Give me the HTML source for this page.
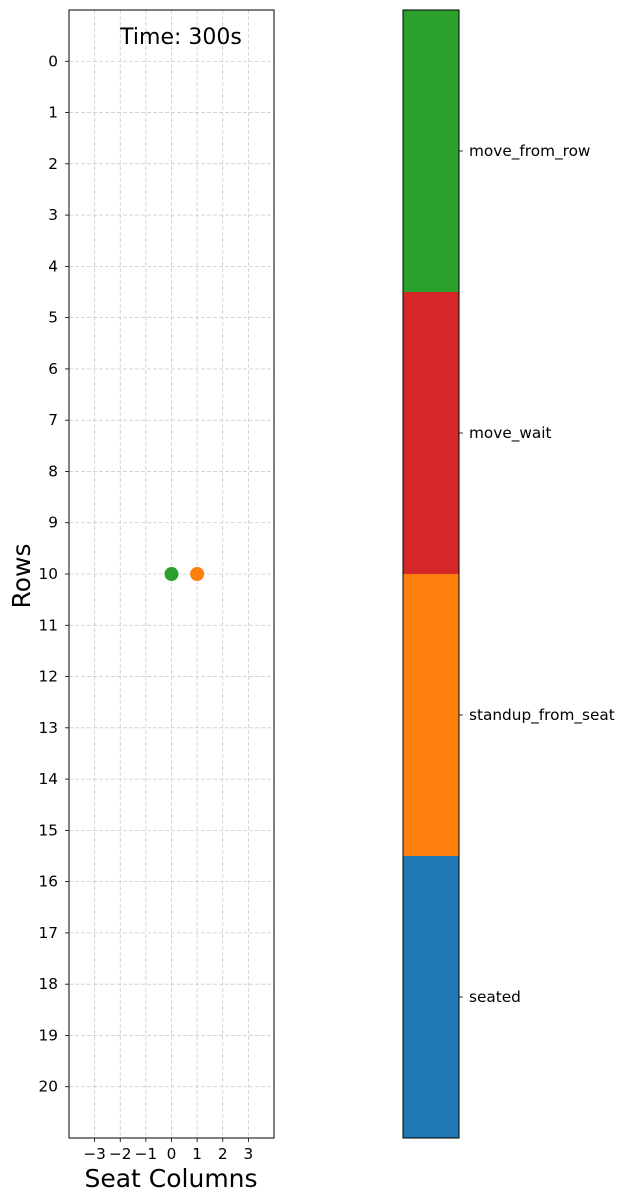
<!DOCTYPE html>
<html><head><meta charset="utf-8"><style>
body{margin:0;background:#fff;}
svg{display:block;font-family:"DejaVu Sans","Liberation Sans",sans-serif;}
</style></head><body>
<svg id="c" width="624" height="1202" xmlns="http://www.w3.org/2000/svg"></svg>
<script>
const rowTicks=[0,1,2,3,4,5,6,7,8,9,10,11,12,13,14,15,16,17,18,19,20];
const colTicks=[-3,-2,-1,0,1,2,3];
const colTickLabels=["\u22123","\u22122","\u22121","0","1","2","3"];
const pointCols=[0,1];
const pointRows=[10,10];
const pointColors=["#2ca02c","#ff7f0e"];
const stateNames=["seated","standup_from_seat","move_wait","move_from_row"];
const stateColors=["#1f77b4","#ff7f0e","#d62728","#2ca02c"];
const timeLabel="Time: 300s";

const L=69,R=274,T=10,B=1138;
const sx=v=>L+(v+4)/8*(R-L);
const sy=v=>T+(v+1)/22*(B-T);
const svg=document.getElementById('c');
const NS="http://www.w3.org/2000/svg";
function mk(tag,attrs,parent){const e=document.createElementNS(NS,tag);for(const k in attrs)e.setAttribute(k,attrs[k]);(parent||svg).appendChild(e);return e;}

const grid=mk('g',{});


rowTicks.forEach(r=>{
  const y=sy(r);
  mk('line',{x1:L,x2:R,y1:y,y2:y,stroke:'#ccc','stroke-dasharray':'4,2','stroke-width':0.8},grid);
  mk('line',{x1:L-4,x2:L,y1:y,y2:y,stroke:'#000','stroke-width':0.8});
  const t=mk('text',{x:L-11,y:y+5,'text-anchor':'end','font-size':15.3});
  t.textContent=r;
  
  
});
colTicks.forEach((c,i)=>{
  const x=sx(c);
  mk('line',{x1:x,x2:x,y1:T,y2:B,stroke:'#ccc','stroke-dasharray':'4,2','stroke-width':0.8},grid);
  mk('line',{x1:x,x2:x,y1:B,y2:B+4,stroke:'#000','stroke-width':0.8});
  const t=mk('text',{x:x,y:B+21,'text-anchor':'middle','font-size':15.3});
  t.textContent=colTickLabels[i];
  
  
});
const frame=mk('rect',{x:L,y:T,width:R-L,height:B-T,fill:'none',stroke:'#000','stroke-width':1});



pointCols.forEach((c,i)=>{
  const p=mk('circle',{cx:sx(c),cy:sy(pointRows[i]),r:7,fill:pointColors[i]});
  
  
});

const tt=mk('text',{x:181,y:44,'text-anchor':'middle','font-size':22});
tt.textContent=timeLabel;



const xt=mk('text',{x:171,y:1187,'text-anchor':'middle','font-size':25});
xt.textContent="Seat Columns";


const yt=mk('text',{x:0,y:0,'text-anchor':'middle','font-size':25,transform:'translate(30,576) rotate(-90)'});
yt.textContent="Rows";



const CL=403,CR=459;
const n=stateNames.length,h=(B-T)/n;
stateNames.forEach((s,i)=>{
  const y0=B-(i+1)*h;
  const r=mk('rect',{x:CL,y:y0,width:CR-CL,height:h,fill:stateColors[i]});
  
  
  const yc=y0+h/2;
  mk('line',{x1:CR,x2:CR+4,y1:yc,y2:yc,stroke:'#000','stroke-width':0.8});
  const t=mk('text',{x:CR+10,y:yc+5,'font-size':15.3});
  t.textContent=s;
  
  
});
const cf=mk('rect',{x:CL,y:T,width:CR-CL,height:B-T,fill:'none',stroke:'#000','stroke-width':1});


</script>
</body></html>
